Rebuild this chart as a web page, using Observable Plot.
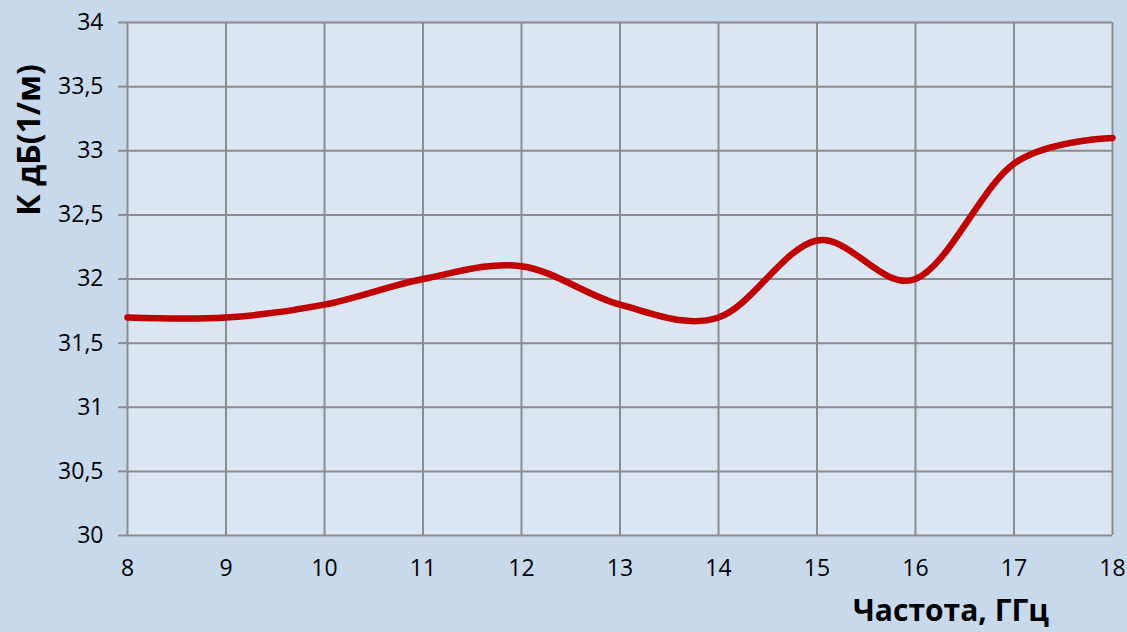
<!DOCTYPE html>
<html><head><meta charset="utf-8">
<script src="https://cdn.jsdelivr.net/npm/d3@7"></script>
<script src="https://cdn.jsdelivr.net/npm/@observablehq/plot@0.6"></script>
<style>
html,body{margin:0;padding:0;background:#c9d9ec;}
#wrap{position:relative;width:1127px;height:632px;overflow:hidden;background:#c9d9ec;font-family:"Open Sans",sans-serif;}
#ytitle{position:absolute;left:27px;top:140px;transform:translate(-50%,-50%) rotate(-90deg);white-space:nowrap;font-weight:bold;font-size:32px;color:#000;}
#xtitle{position:absolute;left:951px;top:609px;transform:translate(-50%,-50%);white-space:nowrap;font-weight:bold;font-size:30px;color:#000;}
</style></head>
<body><div id="wrap"><div id="chart"></div><div id="ytitle">К дБ(1/м)</div><div id="xtitle">Частота, ГГц</div></div>
<script>
const freq = [8, 9, 10, 11, 12, 13, 14, 15, 16, 17, 18];
const kdb = [31.7, 31.7, 31.8, 32.0, 32.1, 31.8, 31.7, 32.3, 32.0, 32.9, 33.1];
const xTicks = [8, 9, 10, 11, 12, 13, 14, 15, 16, 17, 18];
const yTicks = [30, 30.5, 31, 31.5, 32, 32.5, 33, 33.5, 34];
const xTitle = "Частота, ГГц";
const yTitle = "К дБ(1/м)";

const data = freq.map((f, i) => ({f, k: kdb[i]}));
const grid = "#8c8c8c";
const fmt = d => String(d).replace(".", ",");

const chart = Plot.plot({
  width: 1127, height: 632,
  marginLeft: 127, marginRight: 15, marginTop: 22, marginBottom: 97,
  style: {background: "transparent", fontFamily: "'Open Sans', sans-serif", fontSize: "23px", color: "#000"},
  x: {domain: [8, 18], ticks: xTicks, label: null},
  y: {domain: [30, 34], ticks: yTicks, label: null},
  marks: [
    Plot.frame({fill: "#dce6f2", stroke: null}),
    Plot.gridX(xTicks, {stroke: grid, strokeOpacity: 1, strokeWidth: 2}),
    Plot.gridY(yTicks, {stroke: grid, strokeOpacity: 1, strokeWidth: 2}),
    Plot.axisY(yTicks, {tickSize: 9, tickPadding: 15, tickFormat: fmt, stroke: grid, strokeWidth: 2, fill: "#000", label: null}),
    Plot.axisX(xTicks, {tickSize: 0, tickPadding: 24, tickFormat: fmt, fill: "#000", label: null}),
    Plot.line(data, {x: "f", y: "k", curve: "cardinal", tension: 0, stroke: "#c00000", strokeWidth: 6.5, strokeLinecap: "round"})
  ]
});
document.getElementById("chart").appendChild(chart);
</script>
</body></html>
